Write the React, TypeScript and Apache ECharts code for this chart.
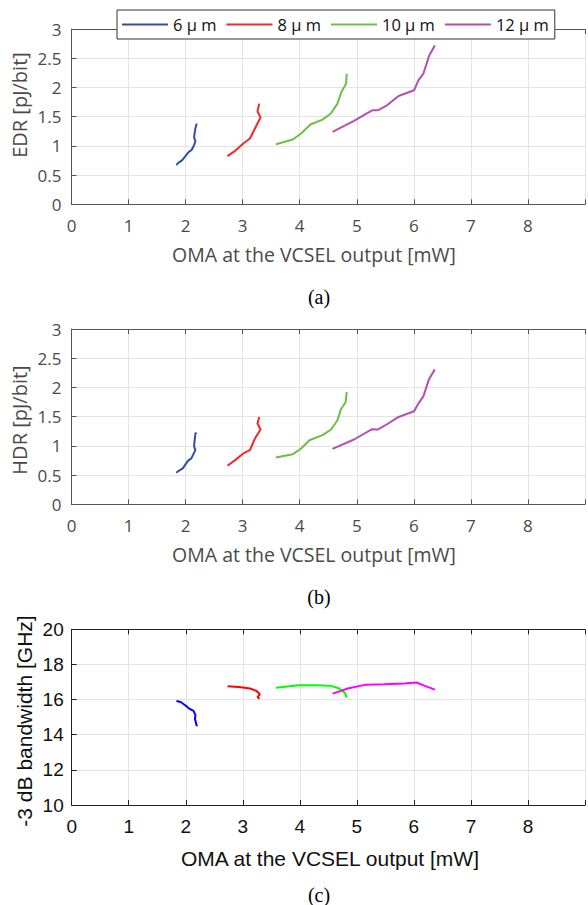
import React, { useEffect, useRef } from "react";
import * as echarts from "echarts";

// ---------- Data ----------
const legendNames = ["6 µ m", "8 µ m", "10 µ m", "12 µ m"];
const xTicks = [0, 1, 2, 3, 4, 5, 6, 7, 8, 9];

// (a) EDR [pJ/bit] vs OMA [mW]
const edrOma6 = [1.837, 1.872, 1.941, 2.01, 2.056, 2.102, 2.148, 2.171, 2.148, 2.171, 2.194];
const edr6 = [0.671, 0.71, 0.756, 0.841, 0.898, 0.926, 1.012, 1.08, 1.154, 1.297, 1.382];
const edrOma8 = [2.734, 2.868, 3.012, 3.128, 3.215, 3.313, 3.26, 3.29];
const edr8 = [0.824, 0.915, 1.041, 1.126, 1.297, 1.485, 1.592, 1.723];
const edrOma10 = [3.58, 3.88, 4.025, 4.187, 4.4, 4.545, 4.661, 4.731, 4.812, 4.823];
const edr10 = [1.029, 1.109, 1.211, 1.365, 1.45, 1.553, 1.723, 1.922, 2.065, 2.235];
const edrOma12 = [4.575, 4.951, 5.269, 5.367, 5.53, 5.733, 6.004, 6.08, 6.167, 6.27, 6.368];
const edr12 = [1.239, 1.427, 1.609, 1.609, 1.694, 1.853, 1.951, 2.121, 2.235, 2.548, 2.718];

// (b) HDR [pJ/bit] vs OMA [mW]
const hdrOma6 = [1.837, 1.88, 1.95, 2.04, 2.1, 2.171, 2.148, 2.171, 2.194];
const hdr6 = [0.539, 0.573, 0.614, 0.744, 0.785, 0.927, 0.995, 1.212, 1.224];
const hdrOma8 = [2.734, 2.868, 3.012, 3.128, 3.215, 3.313, 3.26, 3.29];
const hdr8 = [0.659, 0.756, 0.87, 0.927, 1.126, 1.28, 1.382, 1.495];
const hdrOma10 = [3.58, 3.88, 4.025, 4.17, 4.4, 4.55, 4.661, 4.72, 4.806, 4.823];
const hdr10 = [0.802, 0.858, 0.955, 1.097, 1.183, 1.28, 1.439, 1.621, 1.751, 1.922];
const hdrOma12 = [4.575, 4.951, 5.269, 5.367, 5.53, 5.733, 6.004, 6.08, 6.167, 6.27, 6.368];
const hdr12 = [0.949, 1.109, 1.285, 1.28, 1.37, 1.495, 1.592, 1.724, 1.848, 2.15, 2.309];

// (c) -3 dB bandwidth [GHz] vs OMA [mW]
const bwOma6 = [1.837, 1.91, 1.99, 2.06, 2.136, 2.17, 2.16, 2.194];
const bw6 = [15.92, 15.86, 15.68, 15.49, 15.36, 15.11, 14.92, 14.48];
const bwOma8 = [2.734, 2.925, 3.128, 3.24, 3.3, 3.26, 3.29];
const bw8 = [16.76, 16.72, 16.63, 16.49, 16.3, 16.15, 16.05];
const bwOma10 = [3.58, 3.985, 4.27, 4.55, 4.69, 4.79, 4.82];
const bw10 = [16.68, 16.81, 16.81, 16.78, 16.63, 16.38, 16.11];
const bwOma12 = [4.575, 4.84, 5.16, 5.48, 5.83, 6.05, 6.17, 6.368];
const bw12 = [16.34, 16.63, 16.85, 16.87, 16.91, 16.97, 16.81, 16.57];

const colorsAB = ["#3050a8", "#ee2a2a", "#6cbf45", "#b54fb0"];
const colorsC = ["#0000ff", "#ff0000", "#00ff00", "#ff00ff"];

const zip = (xs: number[], ys: number[]) => xs.map((x, i) => [x, ys[i]]);

const FONT_AB = "Open Sans";
const FONT_C = "Liberation Sans";
const TXT_AB = "#4a4a4a";

export default function App() {
  const ref = useRef<HTMLDivElement>(null);
  useEffect(() => {
    if (!ref.current) return;
    const chart = echarts.init(ref.current, undefined, { renderer: "svg" });

    const gridTops = [29, 329, 629.3];
    const grids = gridTops.map((t, i) => ({
      left: i === 2 ? 71.7 : 71.5,
      top: t,
      right: 0,
      height: i === 2 ? 175.7 : 175.3,
    }));

    const axisColorAB = "#555";
    const xAxes: any[] = [];
    const yAxes: any[] = [];
    [0, 1, 2].forEach((g) => {
      const isC = g === 2;
      const lineColor = isC ? "#222" : axisColorAB;
      const font = isC ? FONT_C : FONT_AB;
      const fsize = isC ? 19 : 17;
      const tcolor = isC ? "#111" : TXT_AB;
      xAxes.push({
        type: "value",
        gridIndex: g,
        min: 0,
        max: 9,
        interval: 1,
        position: "bottom",
        axisLine: { show: true, onZero: false, lineStyle: { color: lineColor, width: 1 } },
        axisTick: { show: true, inside: true, length: 5, lineStyle: { color: lineColor } },
        axisLabel: {
          show: true,
          margin: isC ? 12 : 13,
          fontFamily: font,
          fontSize: fsize,
          color: tcolor,
          formatter: (v: number) => (v === 9 ? "" : String(v)),
        },
        splitLine: { show: true, lineStyle: { color: "#e3e3e3", width: 1 } },
      });
      xAxes.push({
        type: "value",
        gridIndex: g,
        min: 0,
        max: 9,
        interval: 1,
        position: "top",
        axisLine: { show: true, onZero: false, lineStyle: { color: lineColor, width: 1 } },
        axisTick: { show: true, inside: true, length: 5, lineStyle: { color: lineColor } },
        axisLabel: { show: false },
        splitLine: { show: false },
      });
      yAxes.push({
        type: "value",
        gridIndex: g,
        min: isC ? 10 : 0,
        max: isC ? 20 : 3,
        interval: isC ? 2 : 0.5,
        axisLine: { show: true, onZero: false, lineStyle: { color: lineColor, width: 1 } },
        axisTick: { show: true, inside: true, length: 5, lineStyle: { color: lineColor } },
        axisLabel: {
          show: true,
          margin: isC ? 8 : 10,
          fontFamily: font,
          fontSize: fsize,
          color: tcolor,
        },
        splitLine: { show: true, lineStyle: { color: "#e3e3e3", width: 1 } },
      });
    });

    const mk = (name: string, data: number[][], color: string, g: number) => ({
      name,
      type: "line",
      xAxisIndex: g * 2,
      yAxisIndex: g,
      data,
      symbol: "none",
      showSymbol: false,
      smooth: false,
      lineStyle: { color, width: 2 },
      itemStyle: { color },
      z: 3,
    });

    const series = [
      mk(legendNames[0], zip(edrOma6, edr6), colorsAB[0], 0),
      mk(legendNames[1], zip(edrOma8, edr8), colorsAB[1], 0),
      mk(legendNames[2], zip(edrOma10, edr10), colorsAB[2], 0),
      mk(legendNames[3], zip(edrOma12, edr12), colorsAB[3], 0),
      mk("HDR 6", zip(hdrOma6, hdr6), colorsAB[0], 1),
      mk("HDR 8", zip(hdrOma8, hdr8), colorsAB[1], 1),
      mk("HDR 10", zip(hdrOma10, hdr10), colorsAB[2], 1),
      mk("HDR 12", zip(hdrOma12, hdr12), colorsAB[3], 1),
      mk("BW 6", zip(bwOma6, bw6), colorsC[0], 2),
      mk("BW 8", zip(bwOma8, bw8), colorsC[1], 2),
      mk("BW 10", zip(bwOma10, bw10), colorsC[2], 2),
      mk("BW 12", zip(bwOma12, bw12), colorsC[3], 2),
    ];

    const txt = (text: string, x: number, y: number, font: string, size: number, color: string, rot = 0) => ({
      type: "text",
      x,
      y,
      rotation: rot,
      z: 10,
      style: {
        text,
        x: 0,
        y: 0,
        align: "center",
        verticalAlign: "middle",
        fontFamily: font,
        fontSize: size,
        fill: color,
      },
    });

    chart.setOption({
      animation: false,
      backgroundColor: "#ffffff",
      grid: grids,
      xAxis: xAxes,
      yAxis: yAxes,
      legend: {
        data: legendNames,
        left: 117,
        top: 10,
        orient: "horizontal",
        icon: "rect",
        itemWidth: 46,
        itemHeight: 2,
        itemGap: 10,
        padding: [6, 6, 6, 5],
        backgroundColor: "#ffffff",
        borderColor: "#333",
        borderWidth: 1,
        selectedMode: false,
        textStyle: { fontFamily: FONT_AB, fontSize: 16.5, color: "#111" },
        z: 20,
      },
      series,
      graphic: [
        txt("EDR [pJ/bit]", 19, 105, FONT_AB, 20, TXT_AB, Math.PI / 2),
        txt("HDR [pJ/bit]", 19, 420, FONT_AB, 20, TXT_AB, Math.PI / 2),
        txt("-3 dB bandwidth [GHz]", 24, 721, FONT_C, 21, "#111", Math.PI / 2),
        txt("OMA at the VCSEL output [mW]", 314, 254, FONT_AB, 19.5, TXT_AB),
        txt("OMA at the VCSEL output [mW]", 314, 554, FONT_AB, 19.5, TXT_AB),
        txt("OMA at the VCSEL output [mW]", 330, 858, FONT_C, 21, "#111"),
        txt("(a)", 319, 297, "Liberation Serif", 20, "#000"),
        txt("(b)", 319, 597, "Liberation Serif", 20, "#000"),
        txt("(c)", 319, 895, "Liberation Serif", 20, "#000"),
      ],
    });
    return () => chart.dispose();
  }, []);
  return (
    <div
      ref={ref}
      style={{ position: "absolute", left: 0, top: 0, width: 588, height: 905, background: "#fff" }}
    />
  );
}
